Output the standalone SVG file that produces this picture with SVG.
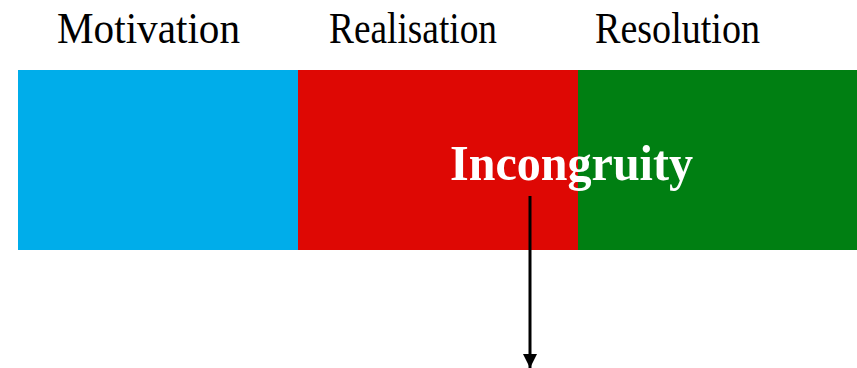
<svg xmlns="http://www.w3.org/2000/svg" width="857" height="368" viewBox="0 0 857 368">
<defs>
<style>
.lbl{font-family:"Liberation Serif","Times New Roman",serif;font-size:44px;fill:#000}
.big{font-family:"Liberation Serif","Times New Roman",serif;font-size:50px;font-weight:bold;fill:#fff}
</style>
<marker id="ah" viewBox="0 0 14 14" markerWidth="14" markerHeight="14" refX="14" refY="7" orient="auto" markerUnits="userSpaceOnUse">
<path d="M0,0 L14,7 L0,14 Z" fill="#000"/>
</marker>
</defs>
<rect width="857" height="368" fill="#fff"/>
<g id="motivation">
<rect x="18" y="70" width="280" height="180" fill="#00ADEA"/>
<text class="lbl" x="57" y="43" textLength="183" lengthAdjust="spacingAndGlyphs">Motivation</text>
</g>
<g id="realisation">
<rect x="298" y="70" width="280" height="180" fill="#DE0804"/>
<text class="lbl" x="329" y="43" textLength="168" lengthAdjust="spacingAndGlyphs">Realisation</text>
</g>
<g id="resolution">
<rect x="578" y="70" width="279" height="180" fill="#007F12"/>
<text class="lbl" x="595" y="43" textLength="165" lengthAdjust="spacingAndGlyphs">Resolution</text>
</g>
<g id="incongruity">
<text class="big" x="450" y="180" textLength="243" lengthAdjust="spacingAndGlyphs">Incongruity</text>
</g>
<g id="connectors">
<line x1="530" y1="196" x2="530" y2="368" stroke="#000" stroke-width="3" marker-end="url(#ah)"/>
</g>
</svg>
